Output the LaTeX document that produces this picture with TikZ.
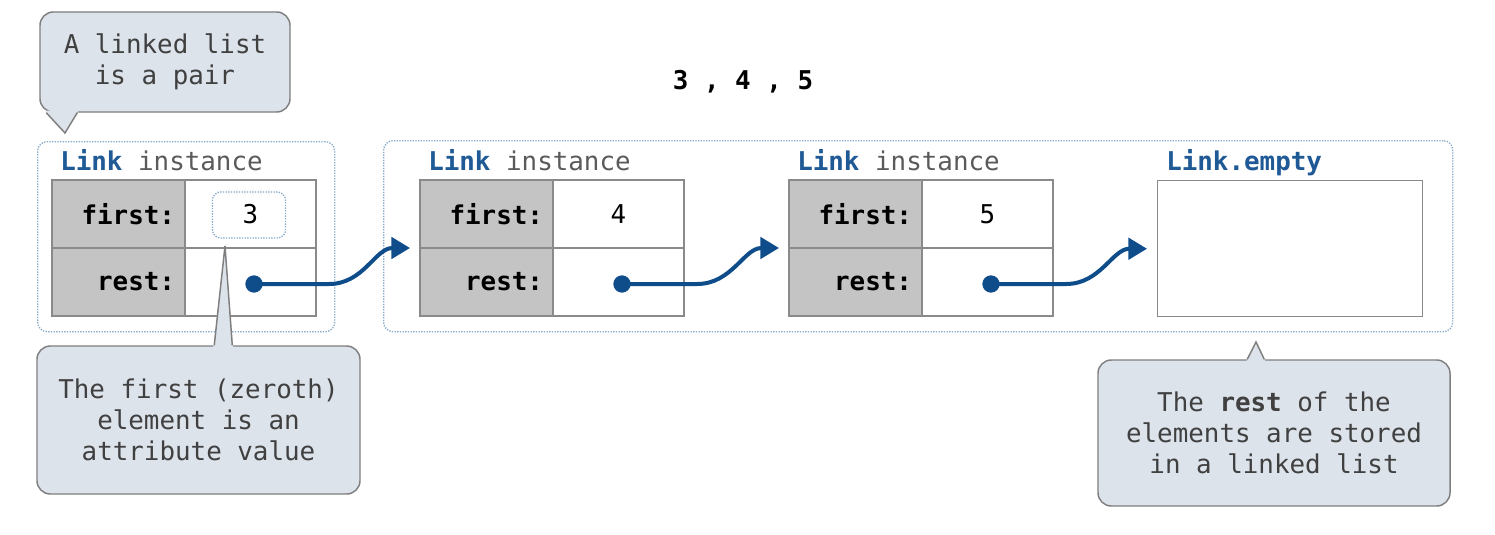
\documentclass[tikz,border=0pt]{standalone}
\usepackage{fontspec}
\setmainfont{DejaVu Sans Mono}
\usetikzlibrary{arrows.meta, positioning, calc}
\definecolor{linkblue}{HTML}{1F5A96}
\definecolor{ptrblue}{HTML}{0F4C8A}
\definecolor{framecol}{HTML}{86A9C9}
\definecolor{cellgray}{HTML}{C4C4C4}
\definecolor{cellline}{HTML}{8A8A8A}
\definecolor{notefill}{HTML}{DDE3EB}
\definecolor{noteline}{HTML}{7F7F7F}
\definecolor{notetext}{HTML}{404040}
\definecolor{insttext}{HTML}{5A5A5A}
\newcommand{\basefont}{\fontsize{19.4}{23.25}\selectfont}
\tikzset{
  keycell/.style={draw=cellline, line width=1.1pt, fill=cellgray, outer sep=0pt,
    inner xsep=10*0.75pt, text width=113*0.75pt, align=right,
    minimum height=68*0.75pt, font=\basefont\bfseries},
  valcell/.style={draw=cellline, line width=1.1pt, fill=white, outer sep=0pt,
    minimum width=131*0.75pt, minimum height=68*0.75pt, font=\basefont},
  emptybox/.style={draw=cellline, line width=1.1pt, fill=white,
    minimum width=265*0.75pt, minimum height=136*0.75pt},
  frame/.style={draw=framecol, densely dotted, line width=1pt, rounded corners=7pt},
  ring/.style={draw=framecol, densely dotted, line width=1pt, rounded corners=6pt,
    minimum width=73*0.75pt, minimum height=46*0.75pt},
  linklabel/.style={anchor=base west, inner sep=0pt, font=\basefont},
  dot/.style={circle, fill=ptrblue, inner sep=0pt, minimum size=13pt},
  ptr/.style={draw=ptrblue, line width=3pt, -{Triangle[length=14pt, width=16pt]}},
  note/.style={draw=noteline, fill=notefill, line width=1.1pt, rounded corners=10pt,
    align=center, text=notetext, font=\basefont},
  notetail/.style={draw=noteline, line width=1.1pt, line join=miter},
}
\begin{document}
\begin{tikzpicture}[x=0.75pt, y=-0.75pt]
\useasboundingbox (0,0) rectangle (1495,535);
\fill[white] (0,0) rectangle (1495,535);

% dotted frames
\node[frame, anchor=north west, minimum width=297*0.75pt, minimum height=190*0.75pt] (box1) at (37,141) {};
\node[frame, anchor=north west, minimum width=1069*0.75pt, minimum height=191*0.75pt] (box2) at (383,140) {};

\node[font=\basefont\bfseries] (seq) at (743,82) {3 , 4 , 5};

% Link instances
\foreach \n/\x/\v in {1/52/3, 2/420/4, 3/789/5} {
  \node[keycell, anchor=north west] (f\n) at (\x,180) {first:};
  \node[valcell, right=0pt of f\n] (v\n) {\v};
  \node[keycell, below=0pt of f\n] (k\n) {rest:};
  \node[valcell, right=0pt of k\n] (r\n) {};
  \node[linklabel] (lbl\n) at ($(f\n.north west)+(8,-10)$)
    {\textcolor{linkblue}{\bfseries Link} \textcolor{insttext}{instance}};
  \node[dot] (d\n) at ($(k\n.north west)+(202,36)$) {};
}

% empty list
\node[emptybox, anchor=north west] (empty) at (1157,180) {};
\node[linklabel] (lbl4) at ($(empty.north west)+(9,-10)$) {\textcolor{linkblue}{\bfseries Link.empty}};

\node[ring] (ring) at ($(v1.center)+(-1.5,1)$) {};

% rest pointers
\foreach \n/\t in {1/k2.north west, 2/k3.north west, 3/empty.west} {
  \draw[ptr] (d\n.center) -- +(75,0) to[out=0, in=180] ([xshift=-7.5pt]\t);
}

% notes
\node[note, minimum width=250*0.75pt, minimum height=100*0.75pt] (note1) at (165,62) {A linked list\\is a pair};
\node[note, minimum width=323*0.75pt, minimum height=148*0.75pt] (note2) at (198.5,420) {The first (zeroth)\\element is an\\attribute value};
\node[note, minimum width=352*0.75pt, minimum height=146*0.75pt] (note3) at (1274,433) {The \textbf{rest} of the\\elements are stored\\in a linked list};

\coordinate (tip1) at (65,133);
\coordinate (tip2) at (225,246);
\coordinate (tip3) at (1256,342);

\fill[notefill] ($(note1.south west)+(6,-2)$) -- (tip1) -- ($(note1.south west)+(39,-2)$) -- cycle;
\draw[notetail] ($(note1.south west)+(7,0)$) -- (tip1) -- ($(note1.south west)+(38,0)$);

\fill[notefill] ($(note2.north west)+(177,2)$) -- (tip2) -- ($(note2.north west)+(197,2)$) -- cycle;
\draw[notetail] ($(note2.north west)+(178,0)$) -- (tip2) -- ($(note2.north west)+(196,0)$);

\fill[notefill] ($(note3.north west)+(149,2)$) -- (tip3) -- ($(note3.north west)+(168,2)$) -- cycle;
\draw[notetail] ($(note3.north west)+(150,0)$) -- (tip3) -- ($(note3.north west)+(167,0)$);

\end{tikzpicture}
\end{document}
